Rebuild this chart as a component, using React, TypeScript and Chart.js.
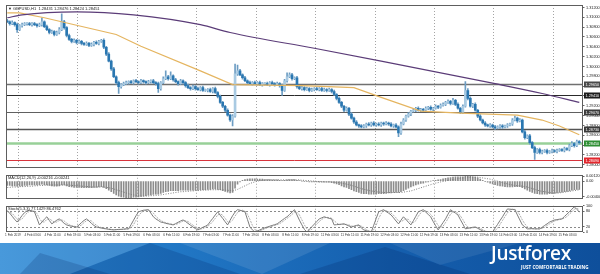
import React, { useEffect, useRef } from 'react';
import { Chart, registerables } from 'chart.js';

Chart.register(...registerables);

const FONT = '"Liberation Sans", Arial, sans-serif';

// ---------------- data ----------------
const priceTitle = '\u25BC GBPUSD,H1  1.28431 1.28476 1.28424 1.28451';
const macdTitle = 'MACD(12,26,9) -0.00216 -0.00241';
const stochTitle = 'Stoch(5,3,3) 77.1429 86.4762';

const xTickLabels = [
  '1 Feb 2019', '4 Feb 03:00', '4 Feb 11:00', '4 Feb 19:00', '5 Feb 03:00', '5 Feb 11:00',
  '5 Feb 19:00', '6 Feb 03:00', '6 Feb 11:00', '6 Feb 19:00', '7 Feb 03:00', '7 Feb 11:00',
  '7 Feb 19:00', '8 Feb 03:00', '8 Feb 11:00', '8 Feb 19:00', '11 Feb 03:00', '11 Feb 11:00',
  '11 Feb 19:00', '12 Feb 03:00', '12 Feb 11:00', '12 Feb 19:00', '13 Feb 03:00', '13 Feb 11:00',
  '13 Feb 19:00', '14 Feb 03:00', '14 Feb 11:00', '14 Feb 19:00', '15 Feb 03:00',
];

const priceTicks = [
  1.312, 1.31, 1.308, 1.306, 1.304, 1.302, 1.3, 1.298, 1.296, 1.294, 1.292, 1.29,
  1.288, 1.286, 1.284, 1.282, 1.28,
];
const macdTicks = [0.0012, 0, -0.004];
const stochTicks = [100, 80, 20, 0];
const stochLevels = [80, 20];

const firstOpen = 1.3093;
const closes = [
  1.3091, 1.3087, 1.3089, 1.3085, 1.3075, 1.3083, 1.3085, 1.3087,
  1.3087, 1.3085, 1.3087, 1.3085, 1.3083, 1.3085, 1.3091, 1.3081,
  1.3075, 1.3069, 1.3071, 1.3065, 1.3069, 1.3075, 1.3091, 1.3079,
  1.3063, 1.3055, 1.3051, 1.3053, 1.3049, 1.3051, 1.3047, 1.3045,
  1.3047, 1.3043, 1.3045, 1.3049, 1.3047, 1.3051, 1.3053, 1.3039,
  1.3025, 1.3011, 1.2995, 1.2979, 1.2967, 1.2959, 1.2963, 1.2965,
  1.2967, 1.2969, 1.2967, 1.2971, 1.2969, 1.2967, 1.2971, 1.2969,
  1.2967, 1.2969, 1.2971, 1.2967, 1.2965, 1.2955, 1.2967, 1.2975,
  1.2979, 1.2975, 1.2981, 1.2973, 1.2969, 1.2965, 1.2971, 1.2967,
  1.2961, 1.2957, 1.2955, 1.2959, 1.2955, 1.2953, 1.2957, 1.2951,
  1.2951, 1.2953, 1.2949, 1.2955, 1.2947, 1.2939, 1.2927, 1.2919,
  1.2911, 1.2901, 1.2891, 1.2899, 1.2985, 1.2991, 1.2983, 1.2977,
  1.2971, 1.2967, 1.2965, 1.2967, 1.2965, 1.2967, 1.2963, 1.2965,
  1.2965, 1.2963, 1.2967, 1.2965, 1.2963, 1.2965, 1.2961, 1.2951,
  1.2971, 1.2979, 1.2983, 1.2975, 1.2977, 1.2959, 1.2955, 1.2957,
  1.2953, 1.2955, 1.2951, 1.2953, 1.2955, 1.2953, 1.2955, 1.2951,
  1.2953, 1.2951, 1.2953, 1.2949, 1.2943, 1.2935, 1.2927, 1.2919,
  1.2911, 1.2915, 1.2903, 1.2895, 1.2887, 1.2881, 1.2879, 1.2877,
  1.2879, 1.2883, 1.2881, 1.2885, 1.2881, 1.2883, 1.2881, 1.2885,
  1.2883, 1.2885, 1.2883, 1.2879, 1.2881, 1.2877, 1.2865, 1.2883,
  1.2891, 1.2899, 1.2903, 1.2909, 1.2911, 1.2915, 1.2911, 1.2913,
  1.2911, 1.2915, 1.2917, 1.2913, 1.2915, 1.2919, 1.2917, 1.2921,
  1.2923, 1.2927, 1.2929, 1.2925, 1.2931, 1.2923, 1.2915, 1.2907,
  1.2919, 1.2951, 1.2935, 1.2919, 1.2923, 1.2911, 1.2899, 1.2891,
  1.2885, 1.2881, 1.2879, 1.2881, 1.2877, 1.2875, 1.2877, 1.2879,
  1.2877, 1.2879, 1.2881, 1.2883, 1.2891, 1.2895, 1.2889, 1.2891,
  1.2867, 1.2855, 1.2859, 1.2845, 1.2835, 1.2825, 1.2831, 1.2825,
  1.2827, 1.2829, 1.2825, 1.2827, 1.2829, 1.2827, 1.2829, 1.2831,
  1.2829, 1.2833, 1.2831, 1.2839, 1.2843, 1.2839, 1.2847, 1.2845,
];

// wick lengths beyond the candle body, in pips
const upperWickPips = [
  3, 2, 4, 2, 3, 2, 3, 2, 2, 3, 2, 3, 2, 3, 8, 2, 3, 2, 3, 2, 3, 4, 16, 3,
  2, 3, 2, 3, 2, 3, 2, 2, 3, 2, 3, 2, 3, 2, 2, 3, 2, 3, 2, 3, 2, 3, 2, 3,
  3, 2, 3, 2, 3, 2, 3, 2, 2, 3, 2, 3, 2, 3, 2, 4, 12, 3, 8, 2, 3, 2, 3, 2,
  2, 3, 2, 3, 2, 3, 2, 3, 3, 2, 3, 2, 3, 2, 3, 2, 2, 3, 2, 3, 20, 12, 3, 2,
  3, 2, 3, 2, 3, 2, 3, 2, 2, 3, 2, 3, 2, 3, 2, 3, 3, 8, 4, 3, 2, 3, 2, 3,
  2, 3, 2, 3, 2, 3, 2, 3, 3, 2, 3, 2, 3, 2, 3, 2, 2, 3, 2, 3, 2, 3, 2, 3,
  3, 2, 3, 2, 3, 2, 3, 2, 2, 3, 2, 3, 2, 3, 2, 4, 3, 2, 3, 2, 3, 2, 3, 2,
  2, 3, 2, 3, 2, 3, 2, 3, 3, 2, 3, 2, 4, 2, 3, 2, 3, 18, 4, 3, 2, 3, 2, 3,
  2, 3, 2, 3, 2, 3, 2, 3, 3, 2, 3, 2, 3, 4, 2, 3, 2, 3, 2, 3, 2, 3, 2, 3,
  3, 2, 3, 2, 3, 2, 3, 2, 2, 3, 2, 3, 4, 2, 3, 2,
];
const lowerWickPips = [
  2, 3, 2, 3, 6, 2, 3, 2, 3, 2, 3, 2, 3, 2, 3, 2, 2, 3, 2, 3, 2, 3, 2, 3,
  3, 2, 3, 2, 3, 2, 3, 2, 2, 3, 2, 3, 2, 3, 2, 3, 3, 2, 3, 2, 3, 14, 3, 2,
  2, 3, 2, 3, 2, 3, 2, 3, 3, 2, 3, 2, 3, 8, 3, 2, 2, 3, 2, 3, 2, 3, 2, 3,
  3, 2, 3, 2, 3, 2, 3, 2, 2, 3, 2, 3, 2, 3, 2, 3, 3, 2, 3, 12, 2, 3, 2, 3,
  2, 3, 2, 3, 2, 3, 2, 3, 3, 2, 3, 2, 3, 2, 3, 10, 2, 3, 2, 3, 2, 3, 2, 3,
  3, 2, 3, 2, 3, 2, 3, 2, 2, 3, 2, 3, 2, 3, 2, 3, 3, 2, 3, 2, 3, 2, 3, 2,
  2, 3, 2, 3, 2, 3, 2, 3, 3, 2, 3, 2, 3, 2, 8, 3, 2, 3, 2, 3, 2, 3, 2, 3,
  3, 2, 3, 2, 3, 2, 3, 2, 2, 3, 2, 3, 2, 3, 2, 3, 3, 2, 3, 2, 3, 2, 3, 2,
  2, 3, 2, 3, 2, 3, 2, 3, 3, 2, 3, 2, 3, 2, 3, 2, 2, 3, 2, 3, 2, 14, 2, 3,
  3, 2, 3, 2, 3, 2, 3, 2, 2, 3, 2, 3, 2, 3, 2, 3,
];

const purpleMaBars = [0, 6, 28, 51, 78, 90, 124, 151, 197, 216, 231];
const purpleMaValues = [1.3099, 1.3105, 1.3111, 1.3105, 1.3085, 1.3069, 1.3037, 1.3011, 1.2965, 1.2945, 1.2927];
const orangeMaBars = [0, 5, 15, 44, 54, 78, 91, 119, 140, 151, 167, 183, 206, 216, 223, 231];
const orangeMaValues = [1.3109, 1.3109, 1.3099, 1.3065, 1.3041, 1.2991, 1.2963, 1.2961, 1.2957, 1.2937, 1.2909, 1.2905, 1.2901, 1.2891, 1.2879, 1.2861];

const levelPrices = [1.2965, 1.2941, 1.2907, 1.2873, 1.2845, 1.2809];
const levelColors = ['#707070', '#2a2a2a', '#606060', '#555555', '#98d098', '#d8343c'];
const levelWidths = [1.3, 1, 1.2, 1.3, 2.5, 1];
const levelBoxColors = ['#4a4a4a', '#1c1c1c', '#3c3c3c', '#3a3a3a', '#2f8f34', '#e2262c'];

const macdHist = [
  -0.0011, -0.0011, -0.0012, -0.0012, -0.0013, -0.0012, -0.0012, -0.0011,
  -0.0011, -0.001, -0.001, -0.001, -0.001, -0.0009, -0.0008, -0.0009,
  -0.001, -0.0011, -0.0012, -0.0013, -0.0013, -0.0012, -0.001, -0.001,
  -0.0012, -0.0014, -0.0015, -0.0016, -0.0016, -0.0016, -0.0017, -0.0017,
  -0.0017, -0.0017, -0.0017, -0.0016, -0.0016, -0.0015, -0.0014, -0.0016,
  -0.0019, -0.0023, -0.0027, -0.0031, -0.0035, -0.0038, -0.004, -0.0041,
  -0.0042, -0.0042, -0.0042, -0.0041, -0.0041, -0.004, -0.0039, -0.0038,
  -0.0037, -0.0036, -0.0035, -0.0034, -0.0033, -0.0033, -0.0031, -0.0029,
  -0.0027, -0.0026, -0.0024, -0.0024, -0.0024, -0.0024, -0.0023, -0.0023,
  -0.0023, -0.0023, -0.0023, -0.0023, -0.0023, -0.0023, -0.0022, -0.0022,
  -0.0022, -0.0021, -0.0021, -0.002, -0.002, -0.0021, -0.0022, -0.0024,
  -0.0026, -0.0028, -0.003, -0.0029, -0.0018, -0.0008, -0.0002, 0.0002,
  0.0004, 0.0005, 0.0006, 0.0006, 0.0006, 0.0005, 0.0005, 0.0005,
  0.0004, 0.0004, 0.0004, 0.0003, 0.0003, 0.0003, 0.0002, 0.0001,
  0.0002, 0.0003, 0.0004, 0.0004, 0.0004, 0.0002, 0.0001, 0.0,
  -0.0001, -0.0001, -0.0002, -0.0002, -0.0002, -0.0002, -0.0003, -0.0003,
  -0.0003, -0.0003, -0.0003, -0.0004, -0.0005, -0.0007, -0.0009, -0.0012,
  -0.0015, -0.0016, -0.0019, -0.0022, -0.0025, -0.0027, -0.0029, -0.0031,
  -0.0032, -0.0032, -0.0033, -0.0033, -0.0033, -0.0033, -0.0032, -0.0032,
  -0.0032, -0.0031, -0.003, -0.003, -0.0029, -0.0029, -0.0029, -0.0027,
  -0.0024, -0.0021, -0.0018, -0.0015, -0.0012, -0.001, -0.0008, -0.0006,
  -0.0005, -0.0003, -0.0002, 0.0, 0.0001, 0.0002, 0.0003, 0.0004,
  0.0006, 0.0007, 0.0008, 0.0009, 0.001, 0.0011, 0.0011, 0.0011,
  0.0011, 0.0012, 0.0012, 0.0012, 0.0011, 0.001, 0.0008, 0.0005,
  0.0002, -0.0001, -0.0003, -0.0005, -0.0007, -0.0009, -0.0011, -0.0012,
  -0.0013, -0.0014, -0.0015, -0.0015, -0.0015, -0.0014, -0.0014, -0.0014,
  -0.0017, -0.002, -0.0023, -0.0026, -0.0029, -0.0031, -0.0032, -0.0033,
  -0.0033, -0.0033, -0.0033, -0.0032, -0.0032, -0.0031, -0.003, -0.0029,
  -0.0028, -0.0027, -0.0026, -0.0025, -0.0023, -0.0022, -0.0021, -0.0021,
];

const macdSignal = [
  -0.0016, -0.0016, -0.0015, -0.0015, -0.0015, -0.0014, -0.0014, -0.0014,
  -0.0013, -0.0013, -0.0013, -0.0012, -0.0012, -0.0011, -0.0011, -0.0011,
  -0.001, -0.001, -0.001, -0.001, -0.001, -0.001, -0.001, -0.001,
  -0.001, -0.001, -0.0011, -0.0011, -0.0012, -0.0012, -0.0013, -0.0013,
  -0.0014, -0.0014, -0.0015, -0.0015, -0.0015, -0.0015, -0.0015, -0.0015,
  -0.0016, -0.0017, -0.0018, -0.002, -0.0022, -0.0024, -0.0026, -0.0028,
  -0.003, -0.0032, -0.0034, -0.0035, -0.0036, -0.0037, -0.0038, -0.0038,
  -0.0038, -0.0038, -0.0037, -0.0037, -0.0036, -0.0036, -0.0035, -0.0034,
  -0.0033, -0.0032, -0.0031, -0.003, -0.0029, -0.0028, -0.0027, -0.0027,
  -0.0026, -0.0026, -0.0025, -0.0025, -0.0024, -0.0024, -0.0024, -0.0023,
  -0.0023, -0.0023, -0.0022, -0.0022, -0.0022, -0.0022, -0.0022, -0.0022,
  -0.0023, -0.0023, -0.0024, -0.0025, -0.0023, -0.0021, -0.0018, -0.0015,
  -0.0012, -0.0009, -0.0006, -0.0004, -0.0002, 0.0, 0.0001, 0.0002,
  0.0003, 0.0003, 0.0003, 0.0003, 0.0003, 0.0003, 0.0003, 0.0003,
  0.0003, 0.0003, 0.0003, 0.0003, 0.0003, 0.0003, 0.0003, 0.0002,
  0.0002, 0.0001, 0.0001, 0.0, 0.0, -0.0001, -0.0001, -0.0001,
  -0.0002, -0.0002, -0.0002, -0.0002, -0.0003, -0.0003, -0.0004, -0.0005,
  -0.0006, -0.0008, -0.0009, -0.0011, -0.0013, -0.0015, -0.0017, -0.0019,
  -0.0021, -0.0022, -0.0024, -0.0025, -0.0026, -0.0027, -0.0028, -0.0028,
  -0.0029, -0.0029, -0.0029, -0.0029, -0.0029, -0.0029, -0.0029, -0.0029,
  -0.0028, -0.0027, -0.0026, -0.0025, -0.0023, -0.0021, -0.0019, -0.0017,
  -0.0015, -0.0013, -0.0011, -0.0009, -0.0007, -0.0005, -0.0004, -0.0002,
  -0.0001, 0.0, 0.0002, 0.0003, 0.0004, 0.0005, 0.0006, 0.0007,
  0.0008, 0.0008, 0.0009, 0.0009, 0.001, 0.001, 0.001, 0.0009,
  0.0008, 0.0007, 0.0006, 0.0005, 0.0003, 0.0002, 0.0, -0.0002,
  -0.0004, -0.0006, -0.0007, -0.0009, -0.001, -0.0011, -0.0012, -0.0012,
  -0.0013, -0.0014, -0.0015, -0.0017, -0.0019, -0.0021, -0.0023, -0.0025,
  -0.0026, -0.0027, -0.0028, -0.0029, -0.003, -0.003, -0.003, -0.003,
  -0.0029, -0.0028, -0.0027, -0.0026, -0.0025, -0.0024, -0.0023, -0.0022,
];

const stochMain = [
  81, 72, 60, 48, 38, 50, 63, 74,
  81, 83, 80, 77, 52, 27, 38, 49,
  58, 44, 31, 38, 45, 50, 42, 33,
  27, 24, 22, 20, 19, 27, 36, 44,
  50, 42, 33, 25, 19, 17, 15, 13,
  12, 10, 9, 8, 9, 10, 10, 11,
  12, 12, 28, 45, 62, 77, 80, 83,
  84, 85, 72, 58, 50, 44, 38, 36,
  33, 31, 29, 27, 32, 37, 42, 46,
  40, 33, 26, 19, 13, 8, 13, 18,
  22, 27, 40, 52, 65, 77, 64, 52,
  39, 27, 45, 62, 76, 85, 83, 80,
  77, 48, 19, 8, 0, 4, 8, 12,
  16, 19, 22, 25, 28, 31, 38, 45,
  52, 58, 67, 76, 85, 65, 45, 27,
  10, 0, 10, 20, 30, 40, 50, 54,
  58, 55, 52, 50, 27, 28, 29, 30,
  31, 27, 23, 19, 22, 25, 27, 15,
  8, 5, 2, 0, 26, 52, 77, 81,
  85, 78, 72, 65, 54, 42, 31, 45,
  58, 48, 37, 27, 43, 60, 77, 81,
  85, 76, 67, 58, 40, 24, 8, 22,
  36, 50, 68, 85, 78, 72, 65, 47,
  30, 12, 14, 16, 18, 19, 14, 9,
  4, 0, 0, 1, 0, 15, 29, 44,
  58, 74, 88, 87, 86, 85, 65, 46,
  27, 20, 12, 12, 13, 12, 12, 12,
  18, 25, 31, 38, 42, 46, 47, 49,
  50, 59, 68, 77, 87, 96, 86, 77,
];

const stochSignal = [
  78, 76, 71, 60, 49, 45, 50, 62,
  73, 79, 81, 80, 70, 52, 39, 38,
  48, 50, 44, 38, 38, 44, 46, 42,
  34, 28, 24, 22, 20, 22, 27, 36,
  43, 45, 42, 33, 26, 20, 17, 15,
  13, 12, 10, 9, 9, 9, 10, 10,
  11, 12, 17, 28, 45, 61, 73, 80,
  82, 84, 80, 72, 60, 51, 44, 39,
  36, 33, 31, 29, 29, 32, 37, 42,
  43, 40, 33, 26, 19, 13, 11, 13,
  18, 22, 30, 40, 52, 65, 69, 64,
  52, 39, 37, 45, 61, 74, 81, 83,
  80, 68, 48, 25, 9, 4, 4, 8,
  12, 16, 19, 22, 25, 28, 32, 38,
  45, 52, 59, 67, 76, 75, 65, 46,
  27, 12, 7, 10, 20, 30, 40, 48,
  54, 56, 55, 52, 43, 35, 28, 29,
  30, 29, 27, 23, 21, 22, 25, 22,
  17, 9, 5, 2, 9, 26, 52, 70,
  81, 81, 78, 72, 64, 54, 42, 39,
  45, 50, 48, 37, 36, 43, 60, 73,
  81, 81, 76, 67, 55, 41, 24, 18,
  22, 36, 51, 68, 77, 78, 72, 61,
  47, 30, 19, 14, 16, 18, 17, 14,
  9, 4, 1, 0, 0, 5, 15, 29,
  44, 59, 73, 83, 87, 86, 79, 65,
  46, 31, 20, 15, 12, 12, 12, 12,
  14, 18, 25, 31, 37, 42, 45, 47,
  49, 53, 59, 68, 77, 87, 90, 86,
];

// ---------------- layout constants ----------------
const X_MIN = -0.5;
const X_MAX = 232.5;
const GRID_START = 4.35;
const GRID_EVERY = 24;
const LABEL_START = 2.3;
const LABEL_EVERY = 8;
const AXIS_W = 17;

const gridPlugin = {
  id: 'mtGrid',
  beforeDatasetsDraw(chart: any) {
    const { ctx, chartArea: a, scales } = chart;
    ctx.save();
    ctx.strokeStyle = '#a4a4a4';
    ctx.lineWidth = 1;
    ctx.setLineDash([1, 2]);
    for (let v = GRID_START; v <= X_MAX; v += GRID_EVERY) {
      const px = Math.round(scales.x.getPixelForValue(v)) + 0.5;
      ctx.beginPath();
      ctx.moveTo(px, a.top);
      ctx.lineTo(px, a.bottom);
      ctx.stroke();
    }
    ctx.restore();
  },
};

const framePlugin = {
  id: 'mtFrame',
  afterDatasetsDraw(chart: any) {
    const { ctx, chartArea: a } = chart;
    ctx.save();
    ctx.strokeStyle = '#5e5e5e';
    ctx.lineWidth = 1;
    const l = Math.round(a.left) + 0.5;
    const t = Math.round(a.top) + 0.5;
    const r = Math.round(a.right) - 0.5;
    const b = Math.round(a.bottom) - 0.5;
    ctx.strokeRect(l, t, r - l, b - t);
    ctx.restore();
  },
};

function titlePlugin(text: string) {
  return {
    id: 'mtTitle',
    afterDatasetsDraw(chart: any) {
      const { ctx, chartArea: a } = chart;
      ctx.save();
      ctx.font = `4px ${FONT}`;
      ctx.fillStyle = '#1a1a1a';
      ctx.textBaseline = 'middle';
      ctx.fillText(text, a.left + 2, a.top + 3.5);
      ctx.restore();
    },
  };
}

const levelPlugin = {
  id: 'mtLevels',
  beforeDatasetsDraw(chart: any) {
    const { ctx, chartArea: a, scales } = chart;
    ctx.save();
    levelPrices.forEach((p, i) => {
      const y = Math.round(scales.y.getPixelForValue(p)) + 0.5;
      ctx.strokeStyle = levelColors[i];
      ctx.lineWidth = levelWidths[i];
      ctx.beginPath();
      ctx.moveTo(a.left, y);
      ctx.lineTo(a.right, y);
      ctx.stroke();
    });
    ctx.restore();
  },
  afterDraw(chart: any) {
    const { ctx, chartArea: a, scales } = chart;
    ctx.save();
    levelPrices.forEach((p, i) => {
      const y = Math.round(scales.y.getPixelForValue(p)) + 0.5;
      ctx.fillStyle = levelBoxColors[i];
      ctx.fillRect(a.right + 1, y - 3, 16, 6);
      ctx.fillStyle = '#ffffff';
      ctx.font = `3.8px ${FONT}`;
      ctx.textBaseline = 'middle';
      ctx.textAlign = 'left';
      ctx.fillText(p.toFixed(5), a.right + 2.5, y);
    });
    ctx.restore();
  },
};

const stochLevelPlugin = {
  id: 'mtStochLevels',
  beforeDatasetsDraw(chart: any) {
    const { ctx, chartArea: a, scales } = chart;
    ctx.save();
    ctx.strokeStyle = '#8a8a8a';
    ctx.lineWidth = 1;
    ctx.setLineDash([2, 2]);
    stochLevels.forEach((v) => {
      const y = Math.round(scales.y.getPixelForValue(v)) + 0.5;
      ctx.beginPath();
      ctx.moveTo(a.left, y);
      ctx.lineTo(a.right, y);
      ctx.stroke();
    });
    ctx.restore();
  },
};

const hiddenX = { type: 'linear', min: X_MIN, max: X_MAX, offset: false, display: false };

function rightAxis(min: number, max: number, ticks: number[], fmt: (v: number) => string) {
  return {
    type: 'linear',
    position: 'right',
    min,
    max,
    afterFit: (s: any) => {
      s.width = AXIS_W;
    },
    afterBuildTicks: (s: any) => {
      s.ticks = ticks.map((v) => ({ value: v }));
    },
    grid: { display: true, drawOnChartArea: false, tickLength: 1.5, color: '#666' },
    border: { display: false },
    ticks: {
      padding: 1.5,
      font: { size: 3.8, family: FONT },
      color: '#222',
      callback: (v: any) => fmt(Number(v)),
    },
  };
}

export default function App() {
  const priceRef = useRef<HTMLCanvasElement>(null);
  const macdRef = useRef<HTMLCanvasElement>(null);
  const stochRef = useRef<HTMLCanvasElement>(null);

  useEffect(() => {
    const charts: Chart[] = [];
    const opens = closes.map((c, i) => (i === 0 ? firstOpen : closes[i - 1]));
    const highs = closes.map((c, i) => Math.max(opens[i], c) + upperWickPips[i] * 0.0001);
    const lows = closes.map((c, i) => Math.min(opens[i], c) - lowerWickPips[i] * 0.0001);

    if (priceRef.current) {
      charts.push(
        new Chart(priceRef.current, {
          type: 'bar',
          data: {
            datasets: [
              {
                type: 'bar',
                data: closes.map((c, i) => ({ x: i, y: [lows[i], highs[i]] })),
                backgroundColor: '#6d9dc3',
                barThickness: 1,
                grouped: false,
                order: 3,
              } as any,
              {
                type: 'bar',
                data: closes.map((c, i) => ({ x: i, y: [opens[i], c] })),
                backgroundColor: closes.map((c, i) => (c < opens[i] ? '#2a77b1' : '#a9cae2')),
                barThickness: 2,
                minBarLength: 1,
                grouped: false,
                order: 2,
              } as any,
              {
                type: 'line',
                data: purpleMaBars.map((b, i) => ({ x: b, y: purpleMaValues[i] })),
                borderColor: '#5b3c78',
                borderWidth: 1.2,
                pointRadius: 0,
                cubicInterpolationMode: 'monotone',
                order: 1,
              } as any,
              {
                type: 'line',
                data: orangeMaBars.map((b, i) => ({ x: b, y: orangeMaValues[i] })),
                borderColor: '#e5b560',
                borderWidth: 1.2,
                pointRadius: 0,
                order: 1,
              } as any,
            ],
          },
          options: {
            animation: false,
            responsive: false,
            events: [],
            layout: { padding: { left: 6, top: 5, right: 0, bottom: 1 } },
            plugins: { legend: { display: false }, tooltip: { enabled: false } },
            scales: {
              x: hiddenX as any,
              y: rightAxis(1.2793, 1.3125, priceTicks, (v) => v.toFixed(5)) as any,
            },
          },
          plugins: [gridPlugin, levelPlugin, framePlugin, titlePlugin(priceTitle)],
        })
      );
    }

    if (macdRef.current) {
      charts.push(
        new Chart(macdRef.current, {
          type: 'bar',
          data: {
            datasets: [
              {
                type: 'bar',
                data: macdHist.map((v, i) => ({ x: i, y: v })),
                backgroundColor: '#8c8c8c',
                barThickness: 1,
                order: 2,
              } as any,
              {
                type: 'line',
                data: macdSignal.map((v, i) => ({ x: i, y: v })),
                borderColor: '#7a7a7a',
                borderWidth: 1,
                borderDash: [1, 1.5],
                pointRadius: 0,
                order: 1,
              } as any,
            ],
          },
          options: {
            animation: false,
            responsive: false,
            events: [],
            layout: { padding: { left: 6, top: 0, right: 0, bottom: 1 } },
            plugins: { legend: { display: false }, tooltip: { enabled: false } },
            scales: {
              x: hiddenX as any,
              y: rightAxis(-0.0046, 0.0016, macdTicks, (v) => (v === 0 ? '0.00' : v.toFixed(6))) as any,
            },
          },
          plugins: [gridPlugin, framePlugin, titlePlugin(macdTitle)],
        })
      );
    }

    if (stochRef.current) {
      charts.push(
        new Chart(stochRef.current, {
          type: 'line',
          data: {
            datasets: [
              {
                data: stochMain.map((v, i) => ({ x: i, y: v })),
                borderColor: '#7c7c7c',
                borderWidth: 1,
                pointRadius: 0,
              },
              {
                data: stochSignal.map((v, i) => ({ x: i, y: v })),
                borderColor: '#adadad',
                borderWidth: 1,
                borderDash: [2, 1],
                pointRadius: 0,
              },
            ],
          },
          options: {
            animation: false,
            responsive: false,
            events: [],
            layout: { padding: { left: 6, top: 0, right: 0, bottom: 2 } },
            plugins: { legend: { display: false }, tooltip: { enabled: false } },
            scales: {
              x: {
                type: 'linear',
                min: X_MIN,
                max: X_MAX,
                offset: false,
                position: 'bottom',
                grid: { display: false, drawTicks: false, tickLength: 0 },
                border: { display: false },
                afterBuildTicks: (s: any) => {
                  s.ticks = xTickLabels.map((_, k) => ({ value: LABEL_START + LABEL_EVERY * k }));
                },
                afterFit: (s: any) => {
                  s.height = 10;
                },
                ticks: {
                  autoSkip: false,
                  maxRotation: 0,
                  minRotation: 0,
                  padding: 1,
                  font: { size: 3.1, family: FONT },
                  color: '#333',
                  callback: (_v: any, idx: number) => xTickLabels[idx],
                },
              } as any,
              y: rightAxis(0, 100, stochTicks, (v) => String(v)) as any,
            },
          },
          plugins: [gridPlugin, stochLevelPlugin, framePlugin, titlePlugin(stochTitle)],
        })
      );
    }

    return () => charts.forEach((c) => c.destroy());
  }, []);

  return (
    <div
      style={{
        position: 'fixed',
        left: 0,
        top: 0,
        width: 600,
        height: 274,
        background: '#ffffff',
        overflow: 'hidden',
      }}
    >
      <canvas ref={priceRef} width={600} height={172} style={{ position: 'absolute', left: 0, top: 0 }} />
      <canvas ref={macdRef} width={600} height={32} style={{ position: 'absolute', left: 0, top: 171 }} />
      <canvas ref={stochRef} width={600} height={42} style={{ position: 'absolute', left: 0, top: 202 }} />
      <svg width={600} height={31} style={{ position: 'absolute', left: 0, top: 243 }}>
        <defs>
          <linearGradient id="bannerGrad" x1="0" y1="0" x2="1" y2="0">
            <stop offset="0" stopColor="#2f8bd6" />
            <stop offset="0.35" stopColor="#1f73c1" />
            <stop offset="0.65" stopColor="#155fae" />
            <stop offset="1" stopColor="#0e4f9b" />
          </linearGradient>
        </defs>
        <rect x={0} y={0} width={600} height={31} fill="url(#bannerGrad)" />
        <polygon points="0,0 150,0 70,31 0,31" fill="rgba(255,255,255,0.12)" />
        <polygon points="70,31 150,0 240,31" fill="rgba(0,40,110,0.22)" />
        <polygon points="180,0 330,0 262,31" fill="rgba(255,255,255,0.10)" />
        <polygon points="300,31 385,4 470,31" fill="rgba(0,35,100,0.22)" />
        <polygon points="390,0 520,0 440,22" fill="rgba(255,255,255,0.08)" />
        <polygon points="20,31 40,10 110,31" fill="rgba(0,30,90,0.18)" />
      </svg>
      <div
        style={{
          position: 'absolute',
          left: 491,
          top: 241,
          fontFamily: '"Open Sans", sans-serif',
          fontWeight: 600,
          fontSize: 19,
          letterSpacing: -0.3,
          color: '#ffffff',
          lineHeight: '24px',
          whiteSpace: 'nowrap',
        }}
      >
        Justforex
      </div>
      <div
        style={{
          position: 'absolute',
          left: 521,
          top: 265,
          fontFamily: '"Open Sans", sans-serif',
          fontWeight: 700,
          fontSize: 4.6,
          color: '#ffffff',
          lineHeight: '5px',
          whiteSpace: 'nowrap',
        }}
      >
        JUST COMFORTABLE TRADING
      </div>
    </div>
  );
}
